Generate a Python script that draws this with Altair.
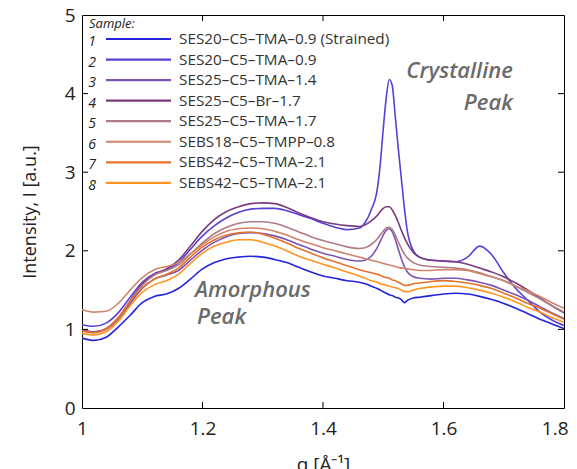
import altair as alt
import pandas as pd

# ---------------- data ----------------
q = [1.00, 1.02, 1.04, 1.06, 1.08, 1.10, 1.12, 1.14, 1.16, 1.18, 1.20, 1.22, 1.24, 1.26,
     1.28, 1.30, 1.32, 1.34, 1.36, 1.38, 1.40, 1.42, 1.44, 1.46, 1.47, 1.48, 1.49, 1.495,
     1.50, 1.505, 1.51, 1.515, 1.52, 1.525, 1.53, 1.535, 1.54, 1.55, 1.56, 1.58, 1.60,
     1.62, 1.64, 1.66, 1.68, 1.70, 1.72, 1.74, 1.76, 1.78, 1.80]

s1 = [0.89, 0.86, 0.90, 1.03, 1.18, 1.34, 1.42, 1.45, 1.52, 1.64, 1.77, 1.85, 1.90, 1.92,
      1.93, 1.92, 1.89, 1.85, 1.79, 1.73, 1.68, 1.65, 1.62, 1.60, 1.58, 1.55, 1.52, 1.50,
      1.48, 1.46, 1.44, 1.43, 1.41, 1.40, 1.38, 1.34, 1.37, 1.40, 1.41, 1.43, 1.45,
      1.46, 1.45, 1.42, 1.38, 1.33, 1.27, 1.20, 1.13, 1.07, 1.01]
s2 = [1.06, 1.04, 1.08, 1.21, 1.41, 1.60, 1.71, 1.76, 1.85, 2.02, 2.19, 2.32, 2.42, 2.49,
      2.53, 2.54, 2.54, 2.51, 2.46, 2.41, 2.35, 2.30, 2.27, 2.29, 2.36, 2.52, 2.78, 3.10,
      3.55, 3.95, 4.18, 4.10, 3.70, 3.30, 2.92, 2.55, 2.25, 2.00, 1.92, 1.88, 1.87,
      1.86, 1.92, 2.06, 1.95, 1.72, 1.52, 1.37, 1.22, 1.12, 1.05]
s3 = [0.99, 0.96, 1.00, 1.13, 1.33, 1.52, 1.64, 1.69, 1.75, 1.88, 2.01, 2.11, 2.18, 2.22,
      2.23, 2.22, 2.19, 2.14, 2.08, 2.02, 1.97, 1.93, 1.89, 1.87, 1.88, 1.93, 2.04, 2.12,
      2.20, 2.26, 2.28, 2.24, 2.14, 2.02, 1.90, 1.80, 1.73, 1.67, 1.65, 1.64, 1.65,
      1.65, 1.63, 1.60, 1.56, 1.50, 1.44, 1.37, 1.29, 1.21, 1.14]
s4 = [1.00, 0.97, 1.01, 1.14, 1.36, 1.58, 1.70, 1.77, 1.88, 2.06, 2.25, 2.40, 2.50, 2.56,
      2.60, 2.61, 2.60, 2.55, 2.48, 2.42, 2.37, 2.34, 2.32, 2.31, 2.33, 2.38, 2.45, 2.50,
      2.54, 2.56, 2.56, 2.52, 2.45, 2.36, 2.26, 2.17, 2.09, 1.98, 1.92, 1.88, 1.87,
      1.86, 1.83, 1.78, 1.73, 1.67, 1.59, 1.50, 1.40, 1.30, 1.21]
s5 = [0.99, 0.96, 1.00, 1.14, 1.36, 1.56, 1.69, 1.75, 1.82, 1.96, 2.10, 2.22, 2.30, 2.35,
      2.37, 2.37, 2.35, 2.30, 2.24, 2.18, 2.13, 2.09, 2.05, 2.03, 2.04, 2.08, 2.15, 2.20,
      2.25, 2.29, 2.30, 2.27, 2.20, 2.11, 2.03, 1.96, 1.91, 1.85, 1.82, 1.80, 1.79,
      1.78, 1.76, 1.72, 1.67, 1.62, 1.55, 1.47, 1.39, 1.30, 1.22]
s6 = [1.25, 1.22, 1.23, 1.33, 1.50, 1.66, 1.76, 1.80, 1.85, 1.96, 2.08, 2.18, 2.25, 2.28,
      2.29, 2.28, 2.25, 2.20, 2.14, 2.09, 2.04, 2.00, 1.96, 1.92, 1.90, 1.88, 1.86, 1.85,
      1.84, 1.83, 1.82, 1.81, 1.80, 1.79, 1.78, 1.78, 1.77, 1.76, 1.75, 1.75, 1.76,
      1.76, 1.75, 1.71, 1.67, 1.62, 1.55, 1.49, 1.42, 1.34, 1.27]
s7 = [0.98, 0.96, 1.01, 1.15, 1.36, 1.53, 1.64, 1.70, 1.78, 1.92, 2.05, 2.14, 2.20, 2.23,
      2.24, 2.21, 2.16, 2.10, 2.03, 1.97, 1.91, 1.86, 1.81, 1.76, 1.74, 1.72, 1.70, 1.69,
      1.67, 1.66, 1.65, 1.63, 1.62, 1.60, 1.58, 1.56, 1.56, 1.58, 1.59, 1.61, 1.62,
      1.61, 1.59, 1.56, 1.52, 1.46, 1.40, 1.33, 1.27, 1.20, 1.13]
s8 = [0.95, 0.93, 0.97, 1.10, 1.30, 1.47, 1.57, 1.62, 1.70, 1.84, 1.97, 2.06, 2.11, 2.14,
      2.14, 2.11, 2.06, 2.00, 1.93, 1.88, 1.83, 1.78, 1.73, 1.68, 1.65, 1.62, 1.60, 1.58,
      1.57, 1.56, 1.55, 1.54, 1.53, 1.52, 1.50, 1.48, 1.48, 1.50, 1.52, 1.54, 1.55,
      1.55, 1.53, 1.50, 1.46, 1.41, 1.35, 1.28, 1.22, 1.15, 1.09]

sample_ids = ["1", "2", "3", "4", "5", "6", "7", "8"]
sample_names = [
    "SES20\u2013C5\u2013TMA\u20130.9 (Strained)",
    "SES20\u2013C5\u2013TMA\u20130.9",
    "SES25\u2013C5\u2013TMA\u20131.4",
    "SES25\u2013C5\u2013Br\u20131.7",
    "SES25\u2013C5\u2013TMA\u20131.7",
    "SEBS18\u2013C5\u2013TMPP\u20130.8",
    "SEBS42\u2013C5\u2013TMA\u20132.1",
    "SEBS42\u2013C5\u2013TMA\u20132.1",
]
colors = ["#2424dc", "#5a3fd6", "#7b54b6", "#7a3a7e", "#b07b86", "#d0856a", "#e5732b", "#ff9521"]

x_ticks = [1, 1.2, 1.4, 1.6, 1.8]
y_ticks = [0, 1, 2, 3, 4, 5]

series = [s1, s2, s3, s4, s5, s6, s7, s8]
rows = []
for sid, ys_ in zip(sample_ids, series):
    assert len(ys_) == len(q)
    for qq, v in zip(q, ys_):
        rows.append({"q": qq, "I": v, "sid": sid})
df = pd.DataFrame(rows)

W, H = 482, 393
FONT = "Open Sans"
XTITLE = "q [\u00c5\u207b\u00b9]"
YTITLE = "Intensity, I [a.u.]"

xs = alt.Scale(domain=[1, 1.8], nice=False, zero=False)
ysc = alt.Scale(domain=[0, 5], nice=False, zero=True)
cs = alt.Scale(domain=sample_ids, range=colors)

xaxis = alt.Axis(
    values=x_ticks, format=".1~f", title=XTITLE,
    labelPadding=11, labelFlush=False, labelBound=False,
    labelAlign={"expr": "datum.value >= 1.79 ? 'right' : 'center'"},
    labelOffset={"expr": "datum.value >= 1.79 ? 4 : 0"},
    titleY=62, titleBaseline="alphabetic",
    titleFontWeight="normal", titleFontSize=19, titleFont=FONT, titleColor="#222")
yaxis = alt.Axis(
    values=y_ticks, format="d", title=YTITLE,
    labelPadding=7, titleX=-52, titleY=196.5, titleAngle=270,
    titleAlign="center", titleBaseline="middle",
    titleFontWeight="normal", titleFontSize=18, titleFont=FONT, titleColor="#222")

X = alt.X("q:Q", scale=xs, axis=xaxis, title=XTITLE)
Y = alt.Y("I:Q", scale=ysc, axis=yaxis, title=YTITLE)

lines = alt.Chart(df).mark_line(strokeWidth=1.6, interpolate="monotone", clip=True).encode(
    x=X, y=Y,
    color=alt.Color("sid:N", scale=cs, legend=None),
    order=alt.Order("sid:N"),
)

xt = pd.DataFrame({"q": x_ticks[1:-1]})
yt = pd.DataFrame({"I": y_ticks[1:-1]})
tick_b = alt.Chart(xt).mark_rule(color="black", strokeWidth=1).encode(
    x=X, y=alt.value(H), y2=alt.value(H - 6))
tick_t = alt.Chart(xt).mark_rule(color="black", strokeWidth=1).encode(
    x=X, y=alt.value(0), y2=alt.value(6))
tick_l = alt.Chart(yt).mark_rule(color="black", strokeWidth=1).encode(
    y=Y, x=alt.value(0), x2=alt.value(6))
tick_r = alt.Chart(yt).mark_rule(color="black", strokeWidth=1).encode(
    y=Y, x=alt.value(W - 6), x2=alt.value(W))

# ---------------- legend (placed in data units of the y scale) ----------------
leg = pd.DataFrame({"sid": sample_ids, "label": sample_names})
legbase = alt.Chart(leg).transform_calculate(
    I=f"5 - (24 + (toNumber(datum.sid) - 1) * 20.55) * 5 / {H}")
leg_rule = legbase.mark_rule(strokeWidth=2.2).encode(
    x=alt.value(24), x2=alt.value(89), y=Y,
    color=alt.Color("sid:N", scale=cs, legend=None))
leg_text = legbase.mark_text(align="left", baseline="middle", font=FONT, fontSize=15.3,
                             color="#333333").encode(
    x=alt.value(97), y=Y, text="label:N")
leg_num = legbase.mark_text(align="center", baseline="middle", font=FONT, fontSize=14,
                            fontStyle="italic", color="#222222", dy=3).encode(
    x=alt.value(10), y=Y, text="sid:N")
leg_title = alt.Chart(pd.DataFrame({"t": ["Sample:"]})).mark_text(
    align="left", baseline="middle", font=FONT, fontSize=13, fontStyle="italic",
    color="#222222").encode(x=alt.value(7), y=alt.value(9), text="t:N")

# ---------------- annotations ----------------
ann_style = dict(font=FONT, fontSize=22, fontStyle="italic", fontWeight=600, color="#6b6b6b",
                 baseline="alphabetic")
ann1 = alt.Chart(pd.DataFrame({"t": ["Crystalline"]})).mark_text(align="right", **ann_style).encode(
    x=alt.datum(1.715), y=alt.datum(4.20), text="t:N")
ann2 = alt.Chart(pd.DataFrame({"t": ["Peak"]})).mark_text(align="right", **ann_style).encode(
    x=alt.datum(1.715), y=alt.datum(3.79), text="t:N")
ann3 = alt.Chart(pd.DataFrame({"t": ["Amorphous"]})).mark_text(align="left", **ann_style).encode(
    x=alt.datum(1.1876), y=alt.datum(1.41), text="t:N")
ann4 = alt.Chart(pd.DataFrame({"t": ["Peak"]})).mark_text(align="left", **ann_style).encode(
    x=alt.datum(1.191), y=alt.datum(1.07), text="t:N")

chart = alt.layer(
    lines, tick_b, tick_t, tick_l, tick_r,
    leg_rule, leg_text, leg_num, leg_title,
    ann1, ann2, ann3, ann4,
).properties(
    width=W, height=H,
    autosize=alt.AutoSizeParams(type="none"),
    padding={"left": 74, "top": 7, "right": 5, "bottom": 61},
    background="white",
).configure_view(
    stroke="black", strokeWidth=1
).configure_axis(
    labelFont=FONT, labelFontSize=19, labelColor="#222222",
    ticks=False, domain=False, grid=False,
)

chart.save("out.html", embed_options={"renderer": "svg", "actions": False})
